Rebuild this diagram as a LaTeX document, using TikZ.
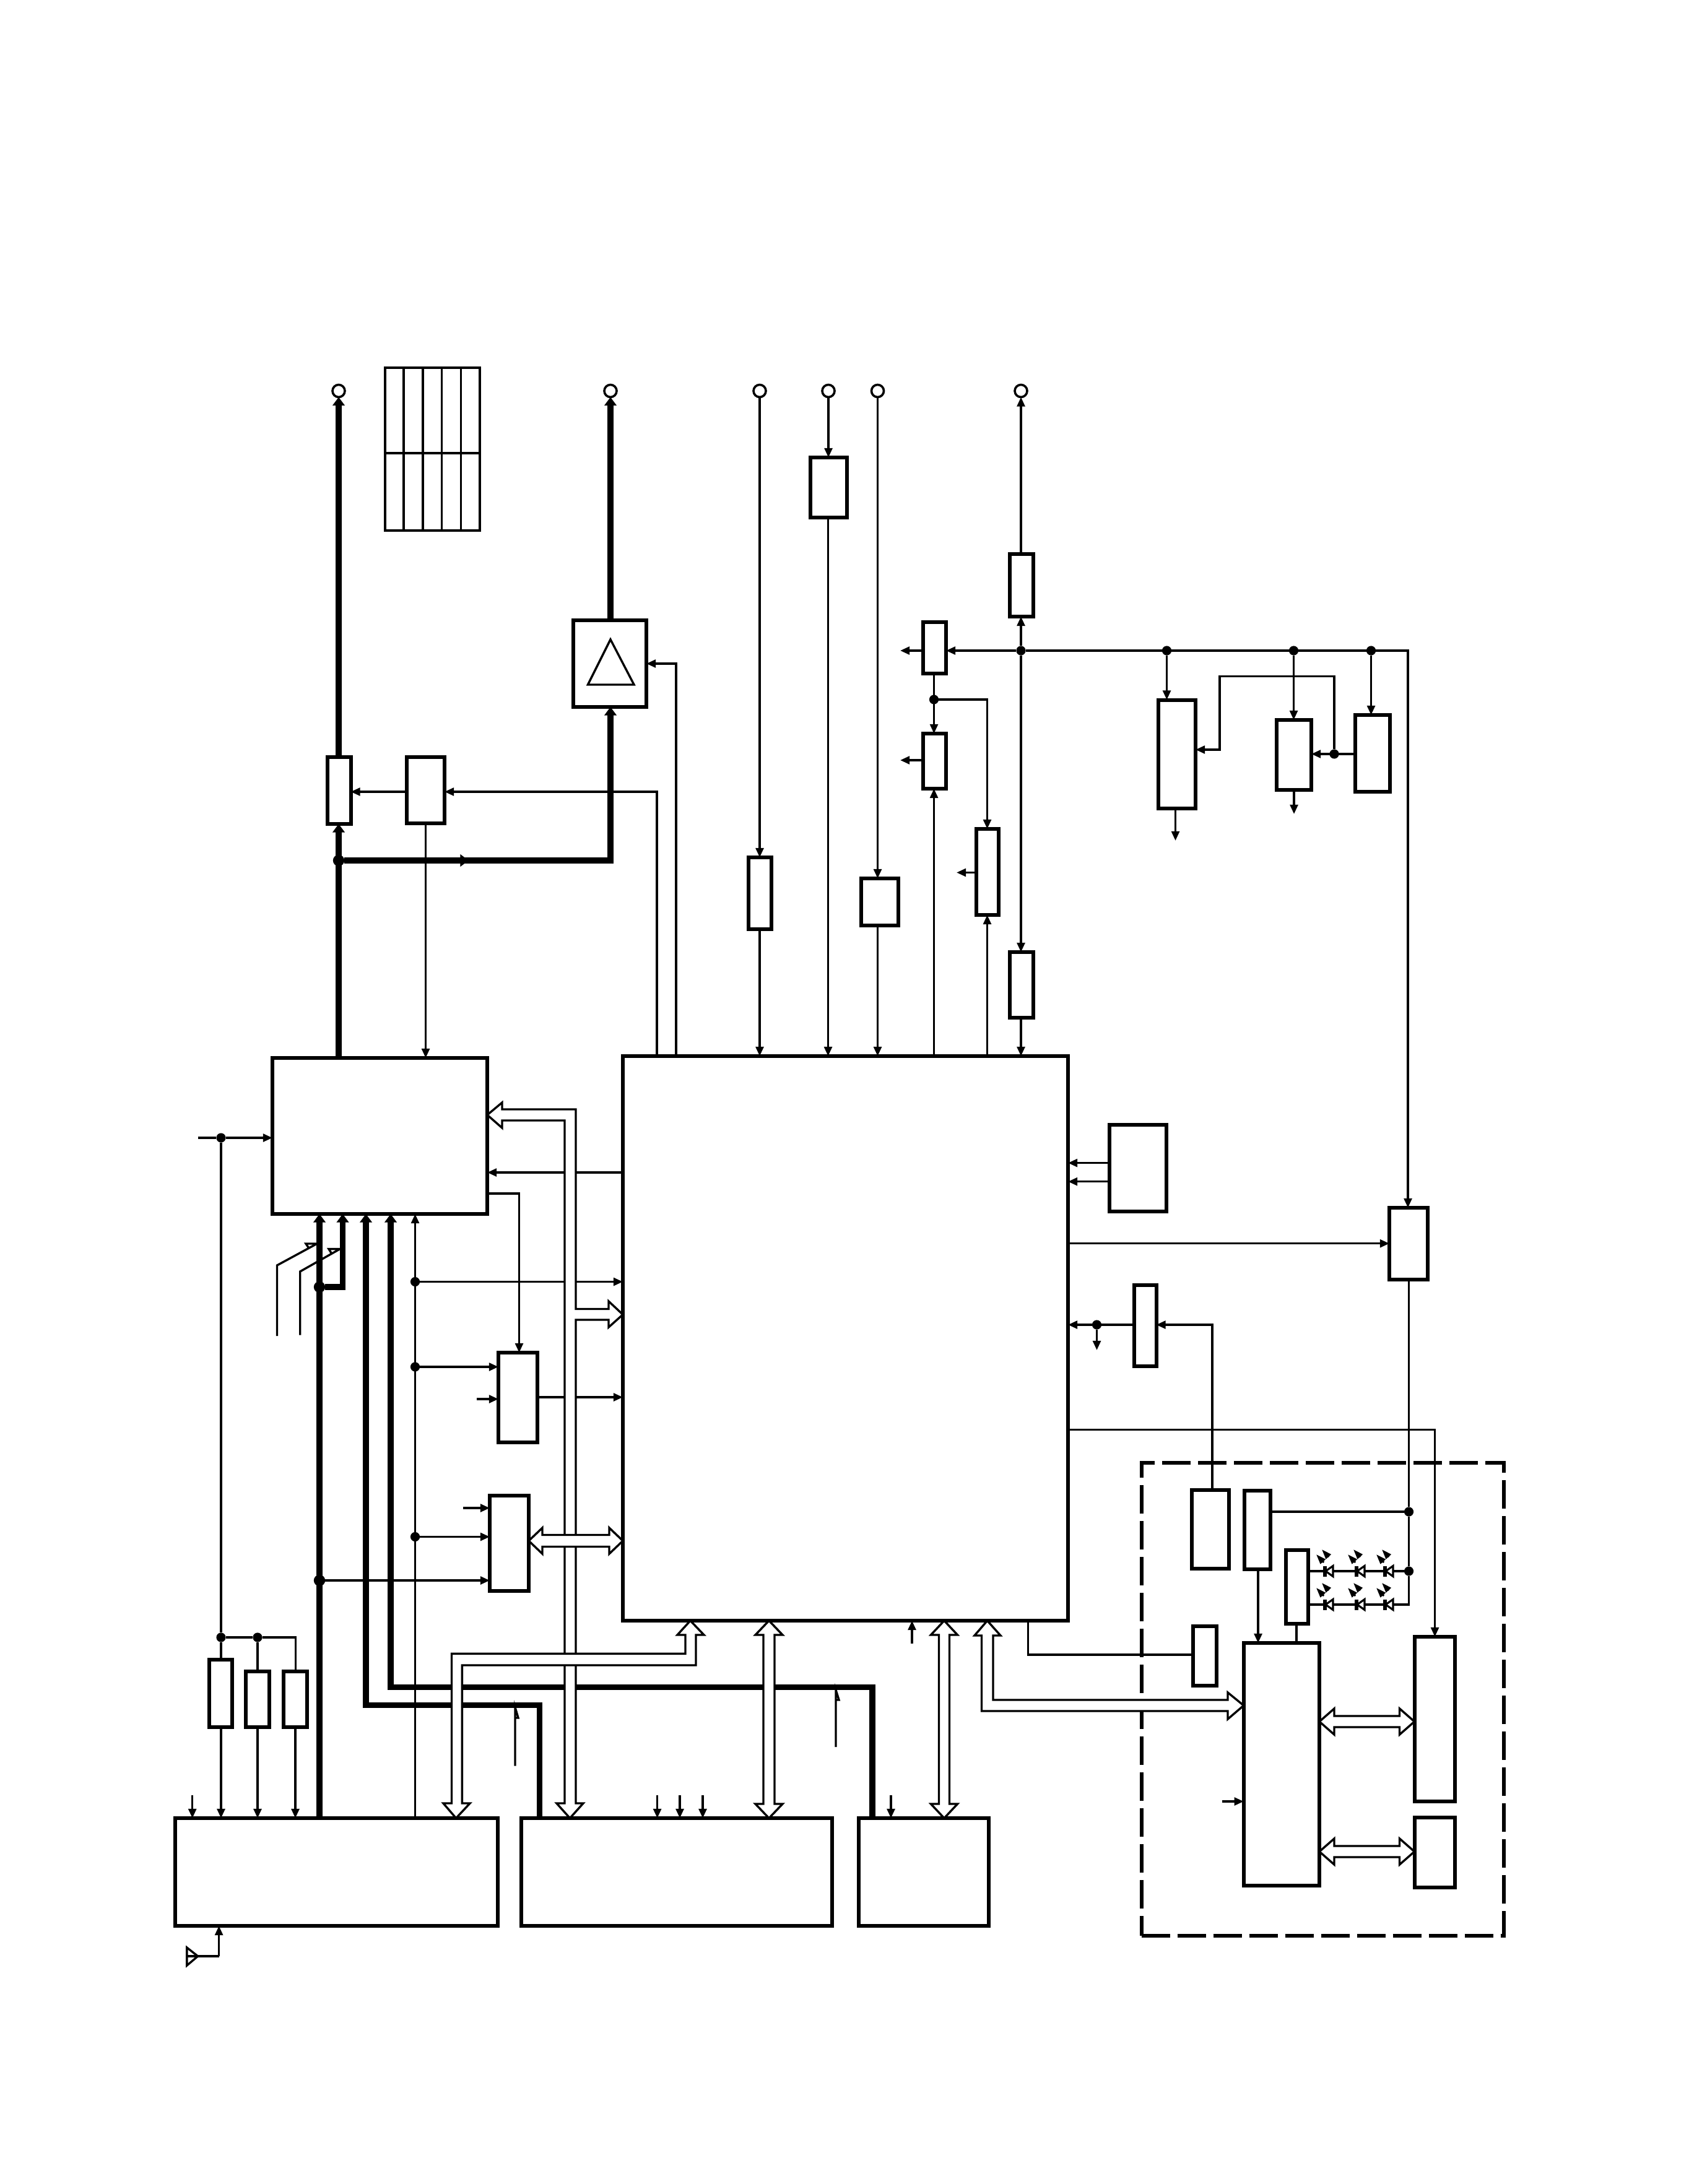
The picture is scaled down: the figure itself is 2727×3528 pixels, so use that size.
\documentclass[tikz,border=0pt]{standalone}
\usetikzlibrary{arrows.meta,calc}

% One drawing unit is one pixel of a 2727 x 3528 sheet (0.25pt), y running downwards.
\tikzset{
  blockbox/.style={draw=black,fill=white,line width=1.5pt,rectangle,inner sep=0pt,outer sep=0pt},
  signal/.style={draw=black,line width=.85pt,miter limit=10,>={Triangle[length=3.8pt,width=3.2pt]}},
  heavy/.style={draw=black,line width=2.3pt,>={Triangle[length=3.4pt,width=4.8pt]}},
  jdot/.style={circle,fill=black,draw=none,minimum size=3.8pt,inner sep=0pt,outer sep=0pt},
  jdotbig/.style={circle,fill=black,draw=none,minimum size=4.6pt,inner sep=0pt,outer sep=0pt},
  terminal/.style={circle,draw=black,fill=white,line width=.9pt,minimum size=5pt,inner sep=0pt,outer sep=0pt},
  busbody/.style={draw=black,fill=white,line width=.85pt,line join=miter},
  zonebox/.style={draw=black,line width=1.5pt,dash pattern=on 11.5pt off 3pt,rectangle,inner sep=0pt,outer sep=0pt},
  gridline/.style={draw=black,line width=.85pt,line cap=rect},
  ledsym/.pic={
    \draw[black,line width=.8pt,fill=white] (13,-8.5) -- (1,0) -- (13,8.5) -- cycle;
    \draw[black,line width=1.4pt] (0,-8.5) -- (0,8.5);
    \draw[black,line width=.7pt,-{Triangle[length=4pt,width=2.7pt]}] (6,-23) -- (-5,-35);
    \draw[black,line width=.7pt,-{Triangle[length=4pt,width=2.7pt]}] (-2,-14) -- (-14,-27);
  }
}

% \blk{name}{x1}{y1}{x2}{y2}: a plain block given by its corners
\newcommand\blk[5]{%
  \pgfmathsetmacro\bw{(#4-#2)*0.25}\pgfmathsetmacro\bh{(#5-#3)*0.25}%
  \node[blockbox,minimum width=\bw pt,minimum height=\bh pt] (#1) at ({(#2+#4)/2},{(#3+#5)/2}) {};}

% \vbibus{top tip}{bottom tip}{half shaft}{half head}{head length}
\newcommand\vbibus[5]{%
  \path[busbody] (#1) -- ($(#1)+(#4,#5)$) -- ($(#1)+(#3,#5)$) -- ($(#2)+(#3,-#5)$) -- ($(#2)+(#4,-#5)$)
    -- (#2) -- ($(#2)+(-#4,-#5)$) -- ($(#2)+(-#3,-#5)$) -- ($(#1)+(-#3,#5)$) -- ($(#1)+(-#4,#5)$) -- cycle;}
% \hbibus{left tip}{right tip}{half shaft}{half head}{head length}
\newcommand\hbibus[5]{%
  \path[busbody] (#1) -- ($(#1)+(#5,#4)$) -- ($(#1)+(#5,#3)$) -- ($(#2)+(-#5,#3)$) -- ($(#2)+(-#5,#4)$)
    -- (#2) -- ($(#2)+(-#5,-#4)$) -- ($(#2)+(-#5,-#3)$) -- ($(#1)+(#5,-#3)$) -- ($(#1)+(#5,-#4)$) -- cycle;}

\begin{document}
\begin{tikzpicture}[x=0.25pt,y=-0.25pt]
\useasboundingbox[fill=white] (0,0) rectangle (2727,3528);

% terminals along the top edge
\node[terminal] (tL) at (547,631.5) {};
\node[terminal] (tR) at (986,631.5) {};
\node[terminal] (tA) at (1227,631.5) {};
\node[terminal] (tB) at (1338,631.5) {};
\node[terminal] (tC) at (1417.5,631.5) {};
\node[terminal] (tD) at (1649,631.5) {};

% table frame
\foreach \gx in {622,652,683,713.5,744.5,775} \draw[gridline] (\gx,594) -- (\gx,857);
\draw[gridline] (622,594) -- (775,594);
\draw[gridline,line width=1.1pt] (622,732) -- (775,732);
\draw[gridline] (622,857) -- (775,857);

% enclosure of the right-hand unit
\node[zonebox,minimum width=146.4pt,minimum height=191.1pt] (zone) at (2136.5,2745) {};

% blocks
\blk{amp}{925.5}{1002}{1044}{1142}
\draw[black,line width=.85pt] (986,1033) -- (1024,1106) -- (949.5,1106) -- cycle;
\blk{swb}{529}{1223}{566.5}{1331}
\blk{det}{657}{1223}{718}{1330}
\blk{kbox}{440}{1709}{787}{1961}
\blk{cpu}{1006}{1706}{1725}{2618}
\blk{lbox}{805}{2185}{868}{2330}
\blk{mbox}{791}{2416}{854}{2570}
\blk{regq}{338.4}{2681}{375}{2790}
\blk{regr}{397}{2700}{435}{2790}
\blk{regs}{458}{2700}{495.5}{2790}
\blk{nbox}{283}{2937}{803.6}{3111}
\blk{obox}{842}{2937}{1344}{3111}
\blk{pbox}{1386.6}{2937}{1597}{3111}
\blk{boxA}{1309}{739}{1368}{836}
\blk{boxF}{1208.5}{1385}{1246}{1501}
\blk{boxG}{1391}{1419}{1451}{1495}
\blk{topb}{1631}{895}{1669}{996}
\blk{boxB}{1490.5}{1005.5}{1528}{1088}
\blk{boxC}{1490.5}{1185}{1528}{1274}
\blk{boxD}{1576.5}{1339}{1613}{1478}
\blk{boxE}{1631}{1538}{1669}{1644}
\blk{boxH}{1871}{1130.5}{1931}{1306}
\blk{boxI}{2062}{1163}{2118}{1276}
\blk{boxJ}{2189}{1155}{2245}{1279}
\blk{boxAC}{1791.5}{1817}{1884}{1957}
\blk{boxAB}{2244}{1951}{2305.7}{2067}
\blk{boxAD}{1831.5}{2075.5}{1867.5}{2207}
\blk{boxU}{1926.5}{2627}{1964.6}{2723}
\blk{boxY}{1924.5}{2407}{1985}{2533.6}
\blk{boxZ}{2010}{2408}{2052}{2535}
\blk{ledb}{2076.5}{2504}{2113}{2623}
\blk{boxV}{2008.7}{2654}{2131}{3046}
\blk{boxW}{2284.5}{2644}{2350}{2910}
\blk{boxX}{2284.5}{2935.5}{2350}{3048.6}

% junctions
\node[jdotbig] (jA) at (547,1390) {};
\node[jdotbig] (jB) at (516,2079) {};
\node[jdotbig] (jC) at (516,2553) {};
\node[jdot] (jD) at (1649,1051) {};
\node[jdot] (jE) at (1884.5,1051) {};
\node[jdot] (jF) at (2089.5,1051) {};
\node[jdot] (jG) at (2214.5,1051) {};
\node[jdot] (jH) at (1508.5,1130) {};
\node[jdot] (jI) at (2155,1218) {};
\node[jdot] (jK) at (357,1838) {};
\node[jdot] (jL) at (357,2645) {};
\node[jdot] (jM) at (416,2645) {};
\node[jdot] (jN) at (670.5,2070.5) {};
\node[jdot] (jO) at (670.5,2208) {};
\node[jdot] (jP) at (670.5,2482.5) {};
\node[jdot] (jQ) at (1771.5,2140) {};
\node[jdot] (jR) at (2275.5,2442) {};
\node[jdot] (jS) at (2275.5,2538) {};

% free ends
\coordinate (eA) at (1454,1051);
\coordinate (eB) at (1454,1228);
\coordinate (eC) at (1545,1409.5);
\coordinate (eD) at (1898.5,1358);
\coordinate (eE) at (2090,1315);
\coordinate (eF) at (320,1838);
\coordinate (eG) at (770,2260);
\coordinate (eH) at (748,2436);
\coordinate (eI) at (1771.5,2181);
\coordinate (eJ) at (1974,2910);
\coordinate (eK) at (1473,2655);
\coordinate (eL) at (310.7,2900);
\coordinate (eM) at (1061.6,2900);
\coordinate (eN) at (1098,2900);
\coordinate (eO) at (1135,2900);
\coordinate (eP) at (1439,2900);

% power paths
\draw[heavy,->] (547,0 |- kbox.north) -- (547,0 |- swb.south);
\draw[heavy,->] (547,0 |- swb.north) -- (tL.south);
\draw[heavy,->] (jA) -- (757,1390);
\draw[heavy,->] (jA) -- (986,1390) -- (986,0 |- amp.south);
\draw[heavy,->] (986,0 |- amp.north) -- (tR.south);
\draw[heavy,->] (516,0 |- nbox.north) -- (516,0 |- kbox.south);
\draw[heavy,<-] (553.5,0 |- kbox.south) -- (553.5,2079) -- (jB);
\draw[heavy,<-] (591,0 |- kbox.south) -- (591,2754.5) -- (871.4,2754.5) -- (871.4,0 |- obox.north);
\draw[heavy,<-] (631,0 |- kbox.south) -- (631,2725.5) -- (1409,2725.5) -- (1409,0 |- pbox.north);

% signal paths around the left block
\draw[signal,->] (det.west |- 0,1279) -- (swb.east |- 0,1279);
\draw[signal,->] (1061,0 |- cpu.north) -- (1061,1279) -- (det.east |- 0,1279);
\draw[signal,->] (1092,0 |- cpu.north) -- (1092,1072) -- (amp.east |- 0,1072);
\draw[signal,->] (687.5,0 |- det.south) -- (687.5,0 |- kbox.north);
\draw[signal] (eF) -- (jK);
\draw[signal,->] (jK) -- (kbox.west |- jK);
\draw[signal] (jK) -- (jL);
\draw[signal] (357,0 |- regq.north) -- (jL);
\draw[signal] (jL) -- (jM) -- (477.7,2645) -- (477.7,0 |- regs.north);
\draw[signal] (416,0 |- regr.north) -- (jM);
\draw[signal,->] (357,0 |- regq.south) -- (357,0 |- nbox.north);
\draw[signal,->] (416,0 |- regr.south) -- (416,0 |- nbox.north);
\draw[signal,->] (477,0 |- regs.south) -- (477,0 |- nbox.north);
\draw[signal,->] (eL) -- (eL |- nbox.north);
\draw[signal,->] (670.5,0 |- nbox.north) -- (670.5,0 |- kbox.south);
\draw[signal,->] (cpu.west |- 0,1894) -- (kbox.east |- 0,1894);
\draw[signal,->] (kbox.east |- 0,1928) -- (838.5,1928) -- (838.5,0 |- lbox.north);
\draw[signal,->] (jN) -- (cpu.west |- jN);
\draw[signal,->] (jO) -- (lbox.west |- jO);
\draw[signal,->] (eG) -- (lbox.west |- eG);
\draw[signal,->] (lbox.east |- 0,2257) -- (cpu.west |- 0,2257);
\draw[signal,->] (eH) -- (mbox.west |- eH);
\draw[signal,->] (jP) -- (mbox.west |- jP);
\draw[signal,->] (jC) -- (mbox.west |- jC);

% slanted feeds with open pointers
\draw[signal] (447.5,2158) -- (447.5,2044) -- (512,2009) -- (494,2009) -- (498,2015);
\draw[signal] (484.7,2156.6) -- (484.7,2054) -- (549,2017.6) -- (531,2017.6) -- (535,2024);
\draw[signal] (832,2852.7) -- (832,2758) -- (837,2775) -- (832,2775);
\draw[signal] (1350,2822) -- (1350,2730) -- (1355,2746) -- (1350,2746);

% signal paths along the top
\draw[signal,->] (tA.south) -- (1227,0 |- boxF.north);
\draw[signal,->] (1227,0 |- boxF.south) -- (1227,0 |- cpu.north);
\draw[signal,->] (tB.south) -- (1338,0 |- boxA.north);
\draw[signal,->] (1337.5,0 |- boxA.south) -- (1337.5,0 |- cpu.north);
\draw[signal,->] (tC.south) -- (1417.5,0 |- boxG.north);
\draw[signal,->] (1417.5,0 |- boxG.south) -- (1417.5,0 |- cpu.north);
\draw[signal,->] (jD) -- (1649,0 |- topb.south);
\draw[signal,->] (1649,0 |- topb.north) -- (tD.south);
\draw[signal,->] (jD) -- (1649,0 |- boxE.north);
\draw[signal,->] (1649,0 |- boxE.south) -- (1649,0 |- cpu.north);
\draw[signal,->] (jD) -- (boxB.east |- jD);
\draw[signal,->] (boxB.west |- eA) -- (eA);
\draw[signal,->] (1508.5,0 |- boxB.south) -- (1508.5,0 |- boxC.north);
\draw[signal,->] (boxC.west |- eB) -- (eB);
\draw[signal,->] (1508.5,0 |- cpu.north) -- (1508.5,0 |- boxC.south);
\draw[signal,->] (jH) -- (1594.5,1130) -- (1594.5,0 |- boxD.north);
\draw[signal,->] (1594.5,0 |- cpu.north) -- (1594.5,0 |- boxD.south);
\draw[signal,->] (boxD.west |- eC) -- (eC);

% supply rail and the blocks hanging from it
\draw[signal,->] (jD) -- (2274,1051) -- (2274,0 |- boxAB.north);
\draw[signal,->] (jE) -- (jE |- boxH.north);
\draw[signal,->] (jF) -- (jF |- boxI.north);
\draw[signal,->] (jG) -- (jG |- boxJ.north);
\draw[signal,->] (eD |- boxH.south) -- (eD);
\draw[signal,->] (eE |- boxI.south) -- (eE);
\draw[signal,->] (boxJ.west |- jI) -- (boxI.east |- jI);
\draw[signal,->] (jI) -- (2155,1092.6) -- (1970,1092.6) -- (1970,1211) -- (boxH.east |- 0,1211);

% right side of the main block
\draw[signal,->] (boxAC.west |- 0,1878.6) -- (cpu.east |- 0,1878.6);
\draw[signal,->] (boxAC.west |- 0,1908.7) -- (cpu.east |- 0,1908.7);
\draw[signal,->] (cpu.east |- 0,2008.7) -- (boxAB.west |- 0,2008.7);
\draw[signal] (boxAD.west |- jQ) -- (jQ);
\draw[signal,->] (jQ) -- (cpu.east |- jQ);
\draw[signal,->] (jQ) -- (eI);
\draw[signal,->] (1958,0 |- boxY.north) -- (1958,2140) -- (boxAD.east |- 0,2140);
\draw[signal,->] (cpu.east |- 0,2309.7) -- (2317.5,2309.7) -- (2317.5,0 |- boxW.north);
\draw[signal] (1660.5,0 |- cpu.south) -- (1660.5,2673) -- (boxU.west |- 0,2673);

% right-hand unit wiring
\draw[signal] (2275.5,0 |- boxAB.south) -- (jR) -- (jS) -- (2275.5,2592) -- (ledb.east |- 0,2592);
\draw[signal] (boxZ.east |- jR) -- (jR);
\draw[signal] (ledb.east |- jS) -- (jS);
\draw[signal,->] (2032,0 |- boxZ.south) -- (2032,0 |- boxV.north);
\draw[signal] (2094,0 |- ledb.south) -- (2094,0 |- boxV.north);
\draw[signal,->] (eJ) -- (boxV.west |- eJ);
\foreach \lx in {2140,2191,2237} {
  \pic at (\lx,2538) {ledsym};
  \pic at (\lx,2592) {ledsym};
}

% inputs on the lower blocks
\draw[signal,->] (eM) -- (eM |- obox.north);
\draw[signal,->] (eN) -- (eN |- obox.north);
\draw[signal,->] (eO) -- (eO |- obox.north);
\draw[signal,->] (eP) -- (eP |- pbox.north);
\draw[signal,->] (eK) -- (eK |- cpu.south);

% antenna input
\coordinate (antfeed) at (353.6,3160);
\draw[signal] (301.8,3160) -- (antfeed);
\draw[signal,->] (antfeed) -- (antfeed |- nbox.south);
\draw[signal] (301.8,3146) -- (319.6,3160) -- (301.8,3175) -- cycle;

% wide data buses
\coordinate (tipKb) at (kbox.east |- 0,1801);
\coordinate (tipCb) at (cpu.west |- 0,2123.5);
\coordinate (tipOb) at (920.5,0 |- obox.north);
\path[busbody] (tipKb) -- (811,1781) -- (811,1792) -- (930,1792) -- (930,2114.5) -- (983,2114.5) -- (983,2102)
  -- (tipCb) -- (983,2144) -- (983,2132) -- (930,2132) -- (930,2913) -- (942,2913) -- (tipOb)
  -- (899,2913) -- (912,2913) -- (912,1810) -- (811,1810) -- (811,1822) -- cycle;

\coordinate (tipN1) at (1115,0 |- cpu.south);
\coordinate (tipN2) at (736.6,0 |- nbox.north);
\path[busbody] (tipN1) -- (1137,2641) -- (1124,2641) -- (1124,2690) -- (746.4,2690) -- (746.4,2913) -- (759,2913)
  -- (tipN2) -- (716,2913) -- (729.5,2913) -- (729.5,2671.4) -- (1107,2671.4) -- (1107,2641) -- (1094,2641) -- cycle;

\coordinate (tipO1) at (1242,0 |- cpu.south);
\coordinate (tipO2) at (1242,0 |- obox.north);
\vbibus{tipO1}{tipO2}{9}{22}{23}
\coordinate (tipP1) at (1525,0 |- cpu.south);
\coordinate (tipP2) at (1525,0 |- pbox.north);
\vbibus{tipP1}{tipP2}{8.5}{21.5}{23}

\coordinate (tipT1) at (1594.6,0 |- cpu.south);
\coordinate (tipT2) at (boxV.west |- 0,2755);
\path[busbody] (tipT1) -- (1616,2642) -- (1604,2642) -- (1604,2746) -- (1983,2746) -- (1983,2734) -- (tipT2)
  -- (1983,2777) -- (1983,2764) -- (1585.5,2764) -- (1585.5,2642) -- (1574,2642) -- cycle;

\coordinate (tipM1) at (mbox.east |- 0,2489);
\coordinate (tipM2) at (cpu.west |- 0,2489);
\hbibus{tipM1}{tipM2}{9.5}{21}{22}
\coordinate (tipV1) at (boxV.east |- 0,2781);
\coordinate (tipW1) at (boxW.west |- 0,2781);
\hbibus{tipV1}{tipW1}{9}{21}{24}
\coordinate (tipV2) at (boxV.east |- 0,2991);
\coordinate (tipX1) at (boxX.west |- 0,2991);
\hbibus{tipV2}{tipX1}{9}{21}{24}
\end{tikzpicture}
\end{document}
